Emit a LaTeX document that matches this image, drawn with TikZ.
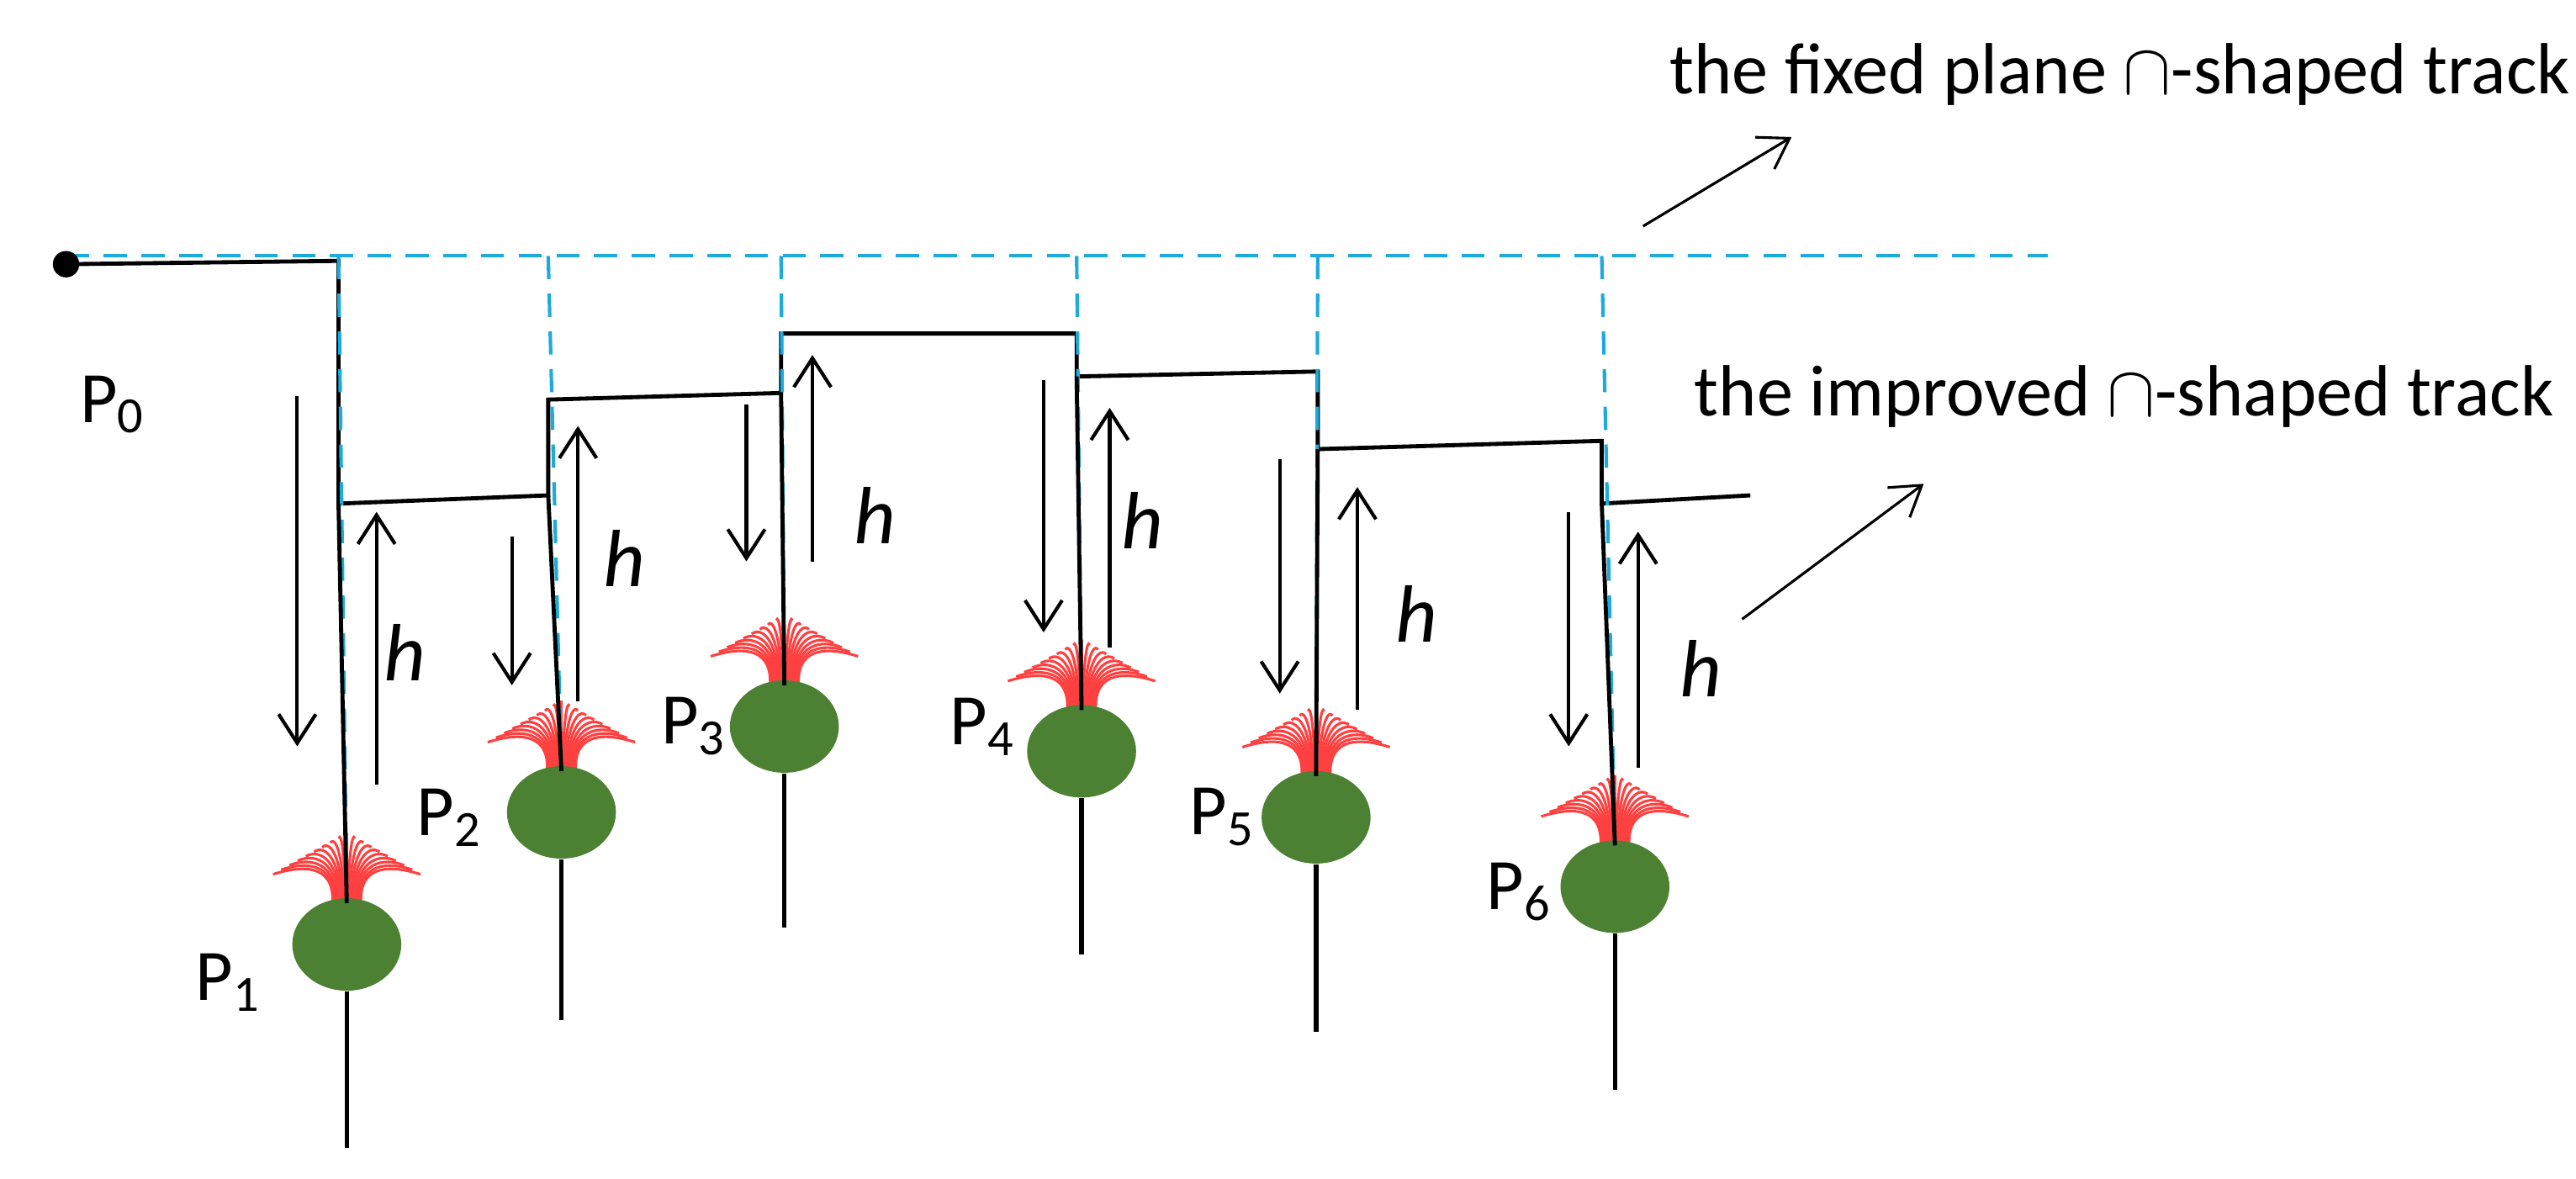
\documentclass[tikz,border=0pt]{standalone}
\usepackage{fontspec}
\setmainfont{Carlito}
\usetikzlibrary{arrows.meta,shapes.geometric}
\definecolor{leaf}{RGB}{76,128,50}
\definecolor{plane}{RGB}{30,170,220}
\tikzset{
  track/.style={line width=1.4pt},
  fixed/.style={plane,line width=1.2pt,dash pattern=on 8pt off 5pt},
  move/.style={line width=1.2pt,-{Straight Barb[length=0.35cm,width=0.45cm]}},
  bulb/.style={ellipse,fill=leaf,minimum width=1.32cm,minimum height=1.12cm,inner sep=0pt},
  lbl/.style={font=\fontsize{25}{28}\selectfont},
  petal/.style={red!75,line width=0.9pt}
}
\begin{document}
\begin{tikzpicture}[x=0.02cm,y=-0.02cm]
    \useasboundingbox (0,0) rectangle (1560,714);
    % plane track (fixed)
    \coordinate (start) at (40,160);
    \draw [fixed] (40,155) -- (1240,155);

    % plants: name/x/y of bulb/stem end
    \foreach \n/\x/\y/\s in {1/210/572/695, 2/340/492/618, 3/475/440/562,
                             4/655/455/578, 5/797/495/625, 6/978/537/660} {
      \pgfmathsetmacro\t{\y-25}
      \coordinate (top\n) at (\x,\t);
      \foreach \a in {-72,-64,...,72} {
        \pgfmathsetmacro\bx{\x+\a*0.12}
        \pgfmathsetmacro\ax{\x+\a*0.1}
        \pgfmathsetmacro\ay{\t-25}
        \pgfmathsetmacro\cx{\x+\a*0.4}
        \pgfmathsetmacro\ex{\x+\a*0.62}
        \pgfmathsetmacro\ey{\t-42+abs(\a)*0.34}
        \pgfmathsetmacro\cy{\ey-5}
        \draw [petal] (\bx,\t) .. controls (\ax,\ay) and (\cx,\cy) .. (\ex,\ey);
      }
      \node [bulb] (p\n) at (\x,\y) {};
      \draw [line width=1.6pt] (p\n.south) -- (\x,\s);
    }

    % the improved track
    \coordinate (k1) at (205,305); \coordinate (k2) at (332,300);
    \coordinate (k3) at (332,242); \coordinate (k4) at (473,238);
    \coordinate (k5) at (473,202); \coordinate (k6) at (652,202);
    \coordinate (k7) at (652,228); \coordinate (k8) at (798,225);
    \coordinate (k9) at (798,272); \coordinate (k10) at (970,267);
    \coordinate (k11) at (970,305); \coordinate (k12) at (1060,300);
    \draw [track] (start) -- (205,158) -- (k1) -- (k2) -- (k3) -- (k4) -- (k5)
      -- (k6) -- (k7) -- (k8) -- (k9) -- (k10) -- (k11) -- (k12);
    \fill (start) circle (8);

    % drop lines to the plants
    \foreach \k/\n/\x in {1/1/205, 2/2/332, 4/3/473, 7/4/652, 9/5/798, 11/6/970} {
      \draw [fixed] (\x,155) -- (top\n);
      \draw [track] (k\k) -- (top\n);
    }

    % down and up movements
    \foreach \xd/\ya/\yb/\xu/\yc/\yd/\hx/\hy in {
        180/240/452/228/475/310/245/395,
        310/325/415/350/425/258/378/338,
        452/245/340/492/340/215/530/312,
        632/230/383/672/392/247/692/315,
        775/278/420/822/430/295/858/372,
        950/310/452/992/465/322/1030/405} {
      \draw [move] (\xd,\ya) -- (\xd,\yb);
      \draw [move] (\xu,\yc) -- (\xu,\yd);
      \node [lbl,font=\fontsize{28}{30}\selectfont\itshape] at (\hx,\hy) {h};
    }

    % plant labels
    \node [lbl] (l0) at (68,245) {P\textsubscript{0}};
    \foreach \n/\x/\y in {1/138/595, 2/272/495, 3/420/440, 4/595/440, 5/740/495, 6/920/540}
      \node [lbl] (l\n) at (\x,\y) {P\textsubscript{\n}};

    % notes
    \node [lbl,anchor=west] (fixnote) at (1005,45) {the fixed plane $\cap$-shaped track};
    \node [lbl,anchor=west] (impnote) at (1020,240) {the improved $\cap$-shaped track};
    \draw [move,line width=0.9pt] (995,137) -- (1085,83);
    \draw [move,line width=0.9pt] (1055,375) -- (1165,293);
\end{tikzpicture}
\end{document}
